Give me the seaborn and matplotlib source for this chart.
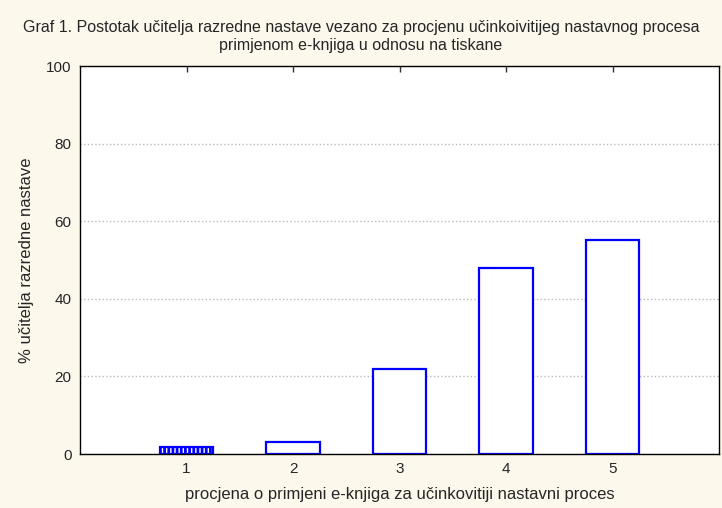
import pandas as pd
import matplotlib.pyplot as plt
import seaborn as sns

# values
procjena = ["1", "2", "3", "4", "5"]
postotak = [1.8, 3.1, 21.9, 47.9, 55.1]

df = pd.DataFrame({"procjena": procjena, "postotak": postotak})

sns.set_style("white")
plt.rcParams["font.family"] = ["Liberation Sans", "DejaVu Sans"]
plt.rcParams["hatch.color"] = "#0000FF"
plt.rcParams["hatch.linewidth"] = 2.0

fig = plt.figure(figsize=(7.22, 5.08), dpi=100, facecolor="#FCF8EC")
ax = fig.add_axes([80 / 722, 54 / 508, 639 / 722, 388 / 508])
ax.set_facecolor("white")

sns.barplot(data=df, x="procjena", y="postotak", color="white",
            edgecolor="#0000FF", linewidth=1.6, width=0.5, ax=ax)
ax.patches[0].set_hatch("||||")

ax.set_xlim(-1, 5)
ax.set_ylim(0, 100)
ax.set_yticks([0, 20, 40, 60, 80, 100])
ax.yaxis.grid(True, linestyle=":", color="#BBBBBB", linewidth=1)
ax.set_axisbelow(True)

for s in ax.spines.values():
    s.set_visible(True)
    s.set_color("black")
    s.set_linewidth(1)

ax.tick_params(axis="x", direction="in", top=True, length=4, width=1,
               labelsize=11, pad=6, color="#333333")
ax.tick_params(axis="y", length=0, labelsize=11, pad=6)

ax.set_xlabel("procjena o primjeni e-knjiga za učinkovitiji nastavni proces",
              fontsize=12, labelpad=8)
ax.set_ylabel("% učitelja razredne nastave", fontsize=12, labelpad=9)

fig.suptitle("Graf 1. Postotak učitelja razredne nastave vezano za procjenu "
             "učinkoivitijeg nastavnog procesa\nprimjenom e-knjiga u odnosu na tiskane",
             fontsize=11.5, x=0.5, y=0.96, linespacing=1.25)

fig.savefig("out.png", dpi=100, facecolor=fig.get_facecolor())
